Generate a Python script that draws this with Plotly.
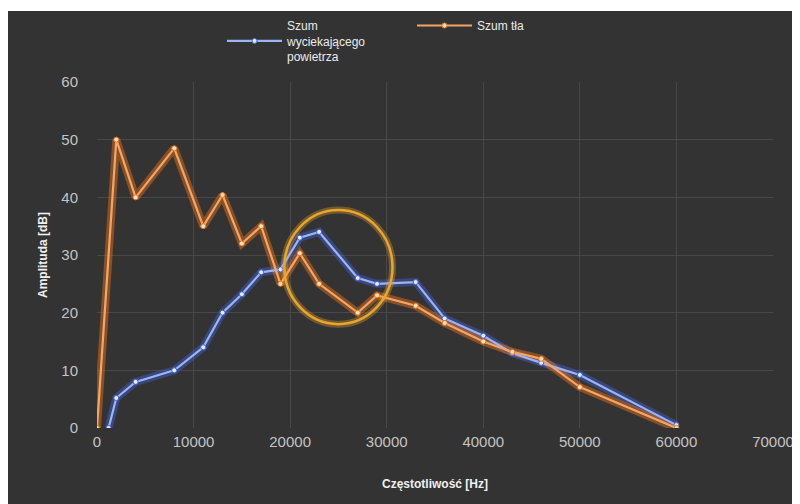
import plotly.graph_objects as go

# --- data ---
freq_leak = [1200, 2000, 4000, 8000, 11000, 13000, 15000, 17000, 19000, 21000, 23000,
             27000, 29000, 33000, 36000, 40000, 43000, 46000, 50000, 60000]
amp_leak = [0, 5.2, 8, 10, 14, 20, 23.2, 27, 27.5, 33, 34,
            26, 25, 25.3, 19, 16, 13, 11.3, 9.2, 0.5]

freq_bg = [0, 2000, 4000, 8000, 11000, 13000, 15000, 17000, 19000, 21000, 23000,
           27000, 29000, 33000, 36000, 40000, 43000, 46000, 50000, 60000]
amp_bg = [0, 50, 40, 48.5, 35, 40.4, 32, 35, 25, 30.3, 25,
          20, 23, 21.2, 18.2, 15, 13.2, 12, 7.1, 0]

name_leak = "Szum<br>wyciekającego<br>powietrza"
name_bg = "Szum tła"

x_ticks = [0, 10000, 20000, 30000, 40000, 50000, 60000, 70000]
y_ticks = [0, 10, 20, 30, 40, 50, 60]

# highlight circle (centre and radii in data units)
circle_cx, circle_cy = 25000, 27.9
circle_rx, circle_ry = 5600, 9.9

BG = "#333333"
GRID = "#484848"
BLUE = "#3f63d8"
BLUE_LIGHT = "#9db4f5"
ORANGE = "#ee7418"
ORANGE_LIGHT = "#f7a565"

fig = go.Figure()

# glow traces
fig.add_trace(go.Scatter(x=freq_leak, y=amp_leak, mode="lines",
                         line=dict(color=BLUE, width=8), opacity=0.45,
                         showlegend=False, hoverinfo="skip"))
fig.add_trace(go.Scatter(x=freq_bg, y=amp_bg, mode="lines",
                         line=dict(color=ORANGE, width=8), opacity=0.45,
                         showlegend=False, hoverinfo="skip"))

# main traces
fig.add_trace(go.Scatter(x=freq_leak, y=amp_leak, mode="lines+markers", name=name_leak,
                         line=dict(color=BLUE_LIGHT, width=2.2),
                         marker=dict(size=5, color="#e6ecff",
                                     line=dict(color=BLUE, width=1))))
fig.add_trace(go.Scatter(x=freq_bg, y=amp_bg, mode="lines+markers", name=name_bg,
                         line=dict(color=ORANGE_LIGHT, width=2.2),
                         marker=dict(size=5, color="#ffe0c0",
                                     line=dict(color=ORANGE, width=1))))

# page is offset by the 8px body margin
OFF = 8
W, H = 800 - OFF, 504 - OFF
L, R, T, B = 97 - OFF, 27, 82 - OFF, 76
pw, ph = W - L - R, H - T - B


def px_x(p):
    return (p - OFF - L) / pw


def px_y(p):
    return (H - B - (p - OFF)) / ph


shapes = [
    # thin white strip at the top of the picture
    dict(type="rect", xref="paper", yref="paper",
         x0=px_x(0), x1=px_x(810), y0=px_y(11), y1=px_y(0),
         fillcolor="white", line=dict(width=0), layer="below"),
    # highlight circle glow
    dict(type="circle", xref="x", yref="y",
         x0=circle_cx - circle_rx, x1=circle_cx + circle_rx,
         y0=circle_cy - circle_ry, y1=circle_cy + circle_ry,
         line=dict(color="rgba(232,160,40,0.35)", width=7), layer="above"),
    dict(type="circle", xref="x", yref="y",
         x0=circle_cx - circle_rx, x1=circle_cx + circle_rx,
         y0=circle_cy - circle_ry, y1=circle_cy + circle_ry,
         line=dict(color="#e9a62c", width=2.5), layer="above"),
]

fig.update_layout(
    width=W, height=H,
    margin=dict(l=L, r=R, t=T, b=B, autoexpand=False),
    paper_bgcolor=BG,
    plot_bgcolor=BG,
    font=dict(family="Liberation Sans, Arial, sans-serif", color="#c4c4c4"),
    shapes=shapes,
    legend=dict(orientation="h", x=px_x(222), y=px_y(11), xanchor="left", yanchor="top",
                bgcolor="rgba(0,0,0,0)", font=dict(size=12, color="#ececec"),
                itemwidth=55, entrywidth=120, entrywidthmode="pixels"),
    xaxis=dict(range=[0, 70000], tickvals=x_ticks, ticktext=[str(v) for v in x_ticks],
               showgrid=True, gridcolor=GRID, gridwidth=1, zeroline=False,
               showline=False, tickfont=dict(size=15, color="#c4c4c4"),
               ticks="", ticklabelstandoff=3, automargin=False,
               title=dict(text="<b>Częstotliwość [Hz]</b>",
                          font=dict(size=12, color="#f0f0f0"), standoff=30)),
    yaxis=dict(range=[0, 60], tickvals=y_ticks,
               showgrid=True, gridcolor=GRID, gridwidth=1, zeroline=False,
               showline=False, tickfont=dict(size=15, color="#c4c4c4"),
               ticks="", ticklabelstandoff=18, automargin=False,
               title=dict(text="<b>Amplituda [dB]</b>",
                          font=dict(size=12, color="#f0f0f0"), standoff=11)),
)

fig.write_html("out.html")
